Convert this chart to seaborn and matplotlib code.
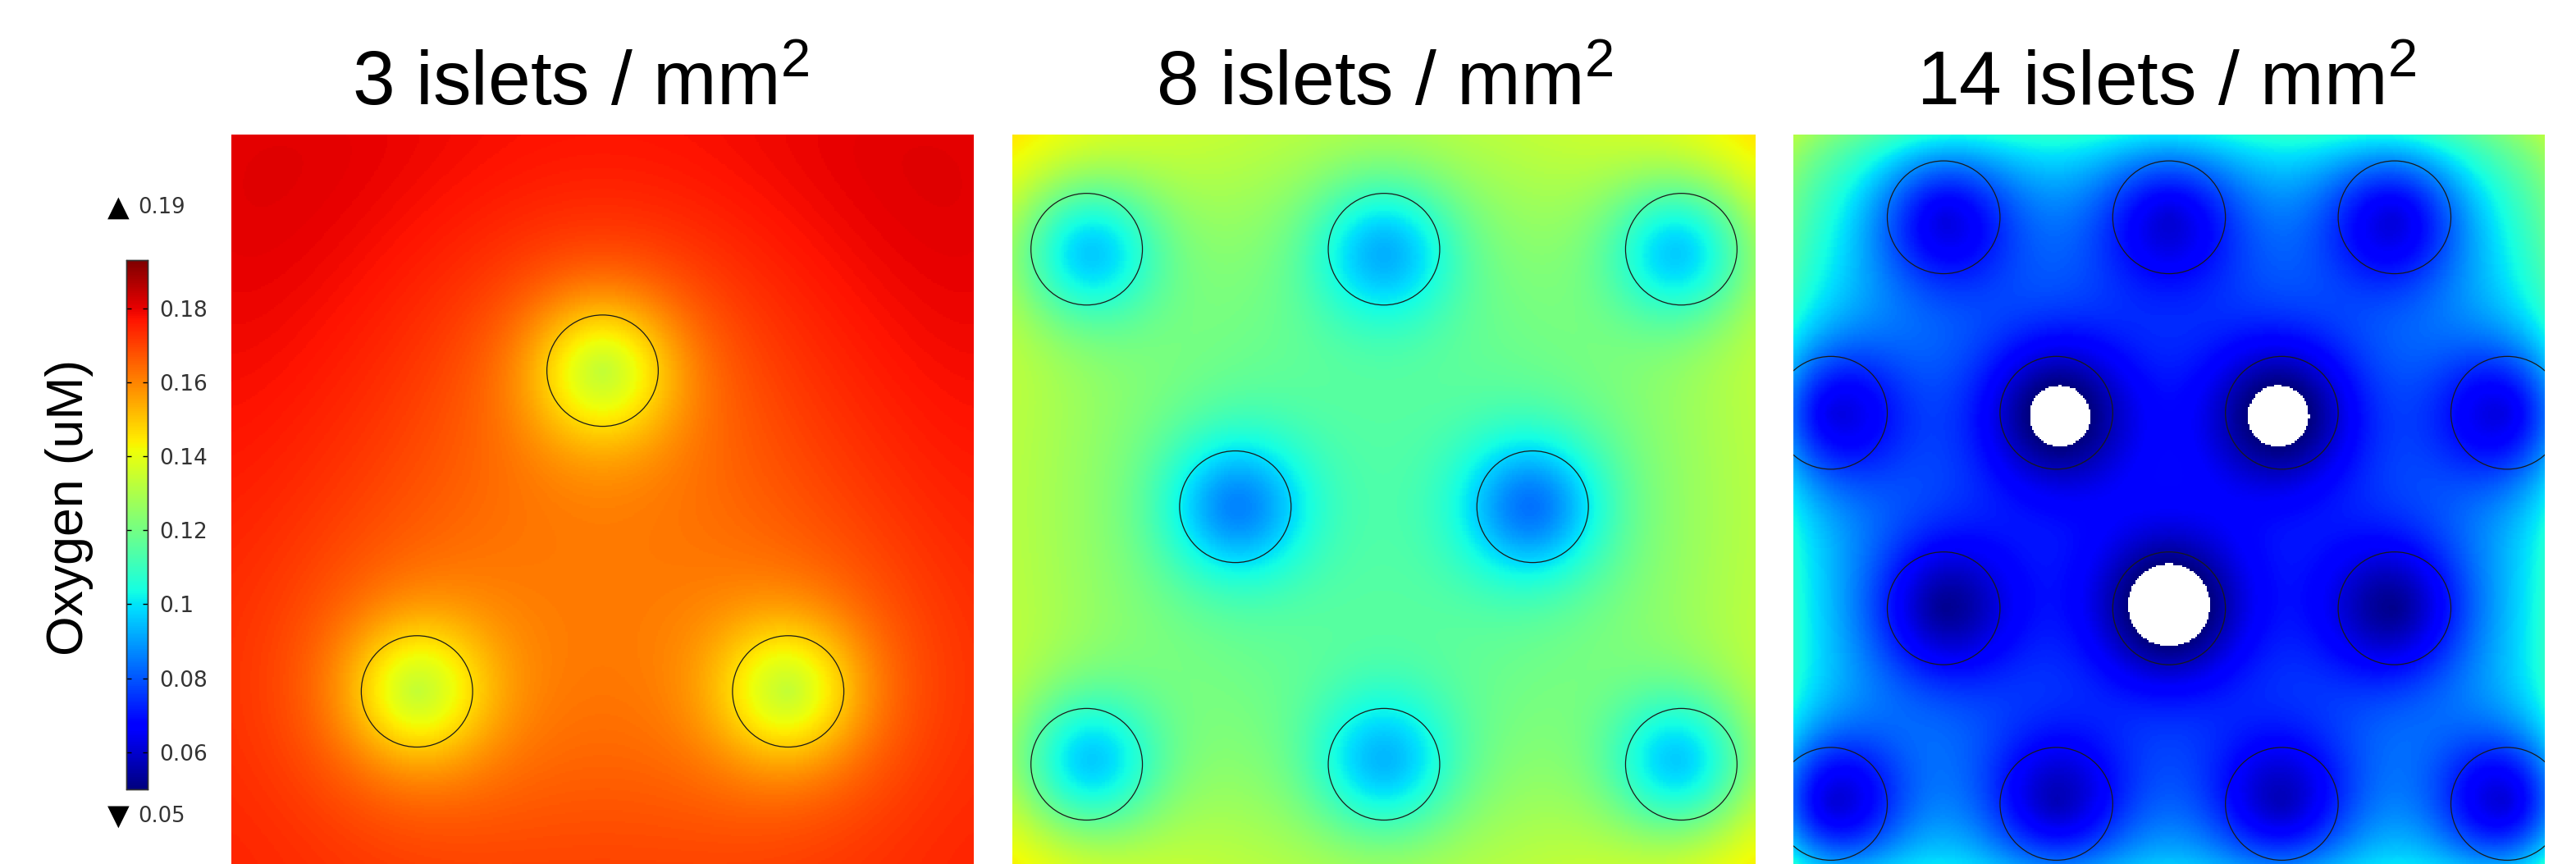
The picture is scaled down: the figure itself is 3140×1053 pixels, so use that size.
import matplotlib
matplotlib.use("Agg")
import matplotlib.pyplot as plt
from matplotlib.patches import Circle
import numpy as np
import seaborn as sns

# Islet layouts (fraction of panel width, y measured from top) and
# oxygen level read at each islet centre (uM).
titles = [
    "3 islets / mm$^2$",
    "8 islets / mm$^2$",
    "14 islets / mm$^2$",
]

islet_x_3 = [0.50, 0.25, 0.75]
islet_y_3 = [0.318, 0.75, 0.75]
islet_o2_3 = [0.133, 0.134, 0.134]

islet_x_8 = [0.10, 0.50, 0.90, 0.30, 0.70, 0.10, 0.50, 0.90]
islet_y_8 = [0.154, 0.154, 0.154, 0.50, 0.50, 0.846, 0.846, 0.846]
islet_o2_8 = [0.097, 0.092, 0.097, 0.084, 0.084, 0.097, 0.092, 0.097]

islet_x_14 = [0.20, 0.50, 0.80,
              0.05, 0.35, 0.65, 0.95,
              0.20, 0.50, 0.80,
              0.05, 0.35, 0.65, 0.95]
islet_y_14 = [0.11, 0.11, 0.11,
              0.37, 0.37, 0.37, 0.37,
              0.63, 0.63, 0.63,
              0.89, 0.89, 0.89, 0.89]
islet_o2_14 = [0.062, 0.060, 0.062,
               0.062, 0.0435, 0.0435, 0.062,
               0.052, 0.039, 0.052,
               0.062, 0.058, 0.058, 0.062]

# oxygen at points between the islets: (x, y, uM)
probes_3 = [
    (0.01, 0.01, 0.181), (0.99, 0.01, 0.181), (0.50, 0.01, 0.175),
    (0.25, 0.10, 0.177), (0.01, 0.50, 0.175), (0.99, 0.50, 0.175),
    (0.50, 0.60, 0.162), (0.50, 0.75, 0.162), (0.50, 0.95, 0.167),
    (0.20, 0.45, 0.169), (0.80, 0.45, 0.169), (0.01, 0.97, 0.174),
    (0.50, 0.18, 0.171),
]
probes_8 = [
    (0.01, 0.01, 0.143), (0.99, 0.01, 0.143), (0.50, 0.01, 0.133),
    (0.30, 0.01, 0.132), (0.01, 0.33, 0.129), (0.01, 0.50, 0.128),
    (0.50, 0.50, 0.113), (0.50, 0.33, 0.115), (0.30, 0.33, 0.114),
    (0.20, 0.50, 0.116), (0.10, 0.33, 0.122), (0.50, 0.97, 0.132),
    (0.99, 0.50, 0.128),
]
probes_14 = [
    (0.01, 0.01, 0.128), (0.99, 0.01, 0.128), (0.05, 0.05, 0.115),
    (0.02, 0.10, 0.108), (0.10, 0.10, 0.095), (0.35, 0.02, 0.099),
    (0.50, 0.02, 0.094), (0.35, 0.10, 0.083), (0.01, 0.50, 0.101),
    (0.03, 0.50, 0.096), (0.10, 0.50, 0.087), (0.20, 0.50, 0.077),
    (0.50, 0.25, 0.074), (0.50, 0.37, 0.067), (0.50, 0.50, 0.071),
    (0.35, 0.50, 0.068), (0.50, 0.80, 0.073), (0.20, 0.80, 0.078),
    (0.35, 0.63, 0.066), (0.05, 0.63, 0.097), (0.50, 0.97, 0.089),
    (0.99, 0.63, 0.100), (0.95, 0.50, 0.096),
]

islet_radius = 0.075
o2_min, o2_max = 0.05, 0.193
cbar_ticks = [0.06, 0.08, 0.10, 0.12, 0.14, 0.16, 0.18]
cbar_labels = ["0.06", "0.08", "0.1", "0.12", "0.14", "0.16", "0.18"]

W, H = 3140, 1053
panel_px = [(282, 164, 1187, 1053), (1234, 164, 2140, 1053), (2186, 164, 3102, 1053)]
title_x = [708, 1688, 2641]


def box(x0, y0, x1, y1):
    return [x0 / W, 1 - y1 / H, (x1 - x0) / W, (y1 - y0) / H]


def basis(px, py, xs, ys, length=0.30, core=0.10):
    # constant, shared islet sink, edge supply (two widths), islet cores
    dx = px[..., None] - xs
    dy = py[..., None] - ys
    r2 = dx ** 2 + dy ** 2
    sink = np.exp(-np.sqrt(r2) / length).sum(axis=-1, keepdims=True)
    cols = [np.ones_like(px)[..., None], -sink]
    for w in (0.06, 0.20):
        supply = (np.exp(-px / w) + np.exp(-(1 - px) / w)
                  + np.exp(-py / w) + np.exp(-(1 - py) / w))
        cols.append(supply[..., None])
    cols.append(-np.exp(-r2 / core ** 2))
    return np.concatenate(cols, axis=-1)


def oxygen_field(xs, ys, o2, probes, nx, ny):
    xs, ys = np.asarray(xs, float), np.asarray(ys, float)
    pr = np.asarray(probes, float)
    A = np.vstack([basis(pr[:, 0], pr[:, 1], xs, ys), basis(xs, ys, xs, ys)])
    b = np.concatenate([pr[:, 2], np.asarray(o2, float)])
    coef, *_ = np.linalg.lstsq(A, b, rcond=None)

    gx = (np.arange(nx) + 0.5) / nx
    gy = (np.arange(ny) + 0.5) / nx
    X, Y = np.meshgrid(gx, gy)
    return basis(X, Y, xs, ys) @ coef


plt.rcParams["font.family"] = ["Liberation Sans", "DejaVu Sans"]
plt.rcParams["mathtext.default"] = "regular"

cmap = plt.get_cmap("jet").copy()
cmap.set_under("white")
cmap.set_over(cmap(1.0))

fig = plt.figure(figsize=(W / 100, H / 100), dpi=100)
cax = fig.add_axes(box(154, 317, 180, 962))

layouts = [
    (islet_x_3, islet_y_3, islet_o2_3, probes_3),
    (islet_x_8, islet_y_8, islet_o2_8, probes_8),
    (islet_x_14, islet_y_14, islet_o2_14, probes_14),
]

nx = 400
for i, (xs, ys, o2, probes) in enumerate(layouts):
    x0, y0, x1, y1 = panel_px[i]
    ny = int(round(nx * (y1 - y0) / (x1 - x0)))
    field = oxygen_field(xs, ys, o2, probes, nx, ny)

    ax = fig.add_axes(box(*panel_px[i]))
    sns.heatmap(
        field, ax=ax, cmap=cmap, vmin=o2_min, vmax=o2_max,
        xticklabels=False, yticklabels=False,
        cbar=(i == 0), cbar_ax=cax if i == 0 else None,
        rasterized=True,
    )
    for cx, cy in zip(xs, ys):
        ax.add_patch(Circle((cx * nx, cy * nx), islet_radius * nx, fill=False,
                            edgecolor="#1a1a1a", linewidth=0.9))
    ax.set_xlim(0, nx)
    ax.set_ylim(ny, 0)

    fig.text(title_x[i] / W, 1 - 128 / H, titles[i], ha="center",
             va="baseline", fontsize=67)

# colorbar styling
cax.set_yticks(cbar_ticks)
cax.set_yticklabels(cbar_labels, family="DejaVu Sans", fontsize=19,
                    color="#333333")
cax.tick_params(axis="y", direction="in", length=4, width=1, pad=10,
                left=True, right=True, labelright=True, labelleft=False)
for s in cax.spines.values():
    s.set_visible(True)
    s.set_edgecolor("#333333")
    s.set_linewidth(1.0)

fig.text(85 / W, 1 - 618 / H, "Oxygen (uM)", rotation=90, ha="center",
         va="center", fontsize=45)

fig.text(144 / W, 1 - 253 / H, "\u25b2", ha="center", va="center",
         fontsize=25, family="DejaVu Sans", color="black")
fig.text(168 / W, 1 - 253 / H, "0.19", ha="left", va="center",
         fontsize=18.5, family="DejaVu Sans", color="#333333")
fig.text(144 / W, 1 - 995 / H, "\u25bc", ha="center", va="center",
         fontsize=25, family="DejaVu Sans", color="black")
fig.text(168 / W, 1 - 995 / H, f"{o2_min:.2f}", ha="left", va="center",
         fontsize=18.5, family="DejaVu Sans", color="#333333")

fig.savefig("out.png", dpi=100)
